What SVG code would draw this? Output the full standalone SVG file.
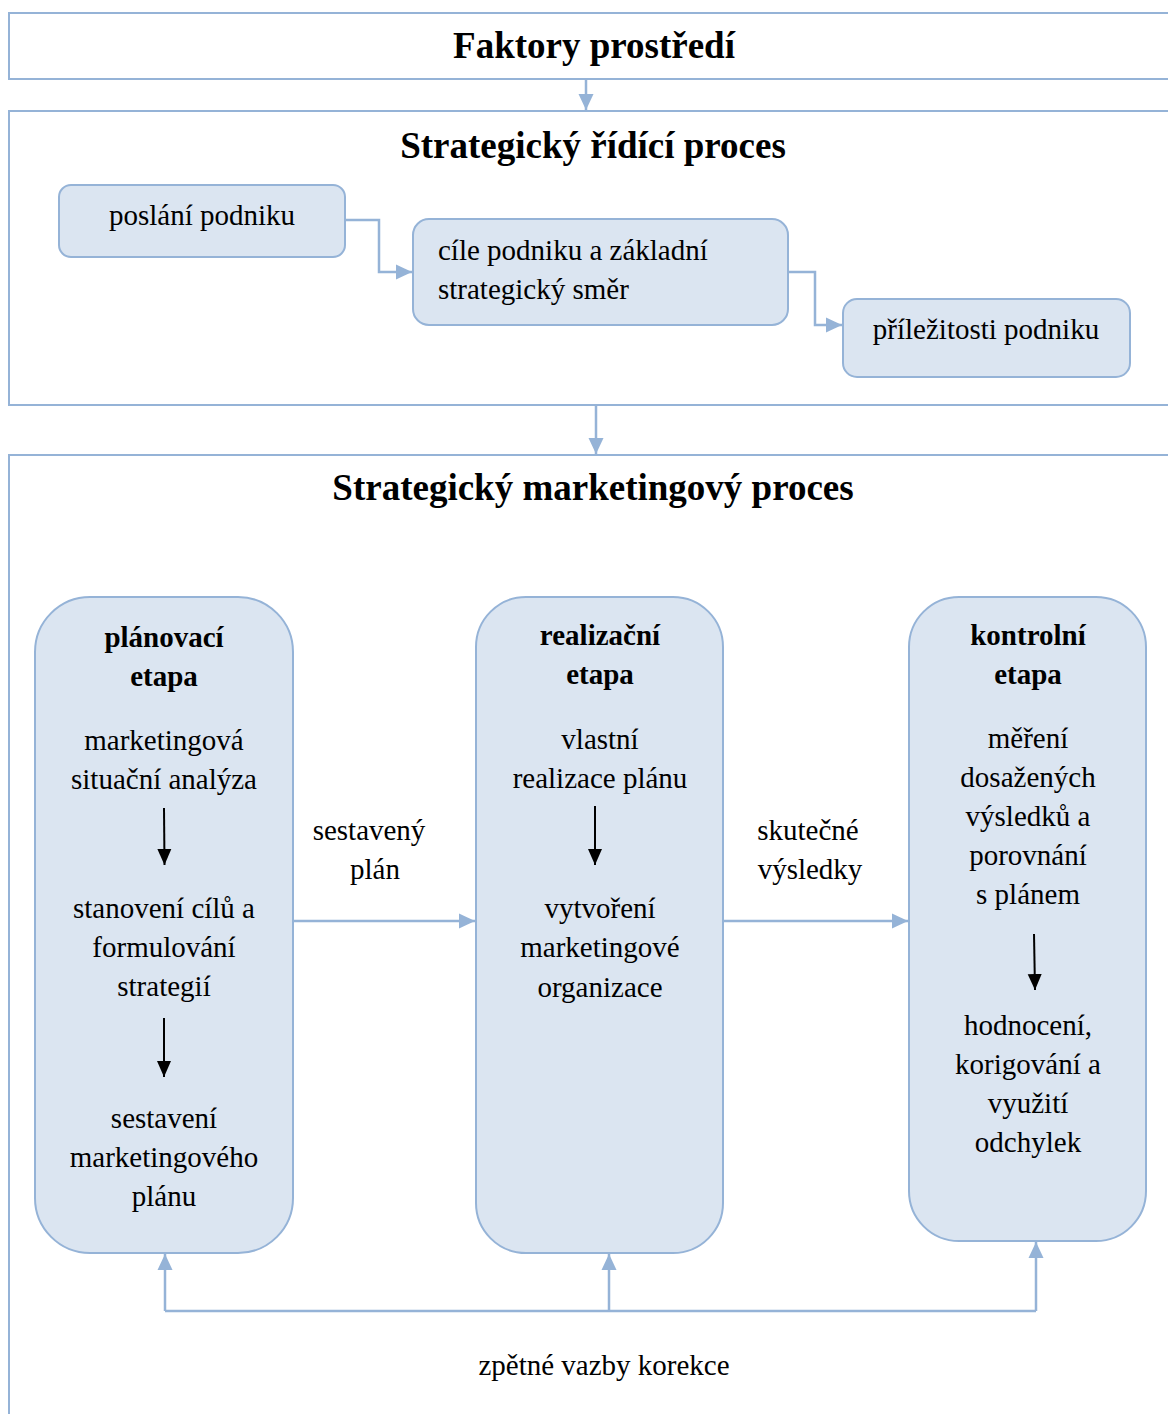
<svg xmlns="http://www.w3.org/2000/svg" width="1168" height="1414" viewBox="0 0 1168 1414">
<style>
.frame{fill:#fff;stroke:#95B3D7;stroke-width:2}
.node{fill:#DBE5F1;stroke:#95B3D7;stroke-width:2}
.conn{fill:none;stroke:#95B3D7;stroke-width:2.5}
.inner{fill:none;stroke:#000;stroke-width:2}
text{font-family:"Liberation Serif","Times New Roman",serif;fill:#000}
.t{font-size:37px;font-weight:bold;text-anchor:middle}
.b{font-size:29px;text-anchor:middle}
.h{font-size:29px;font-weight:bold;text-anchor:middle}
.l{font-size:29px}
</style>
<defs>
<marker id="ab" markerUnits="userSpaceOnUse" markerWidth="18" markerHeight="18" viewBox="0 0 18 18" refX="16" refY="9" orient="auto">
<path d="M0,1.5 L16,9 L0,16.5 Z" fill="#95B3D7"/>
</marker>
<marker id="ak" markerUnits="userSpaceOnUse" markerWidth="18" markerHeight="18" viewBox="0 0 18 18" refX="16" refY="9" orient="auto">
<path d="M0,2 L16,9 L0,16 Z" fill="#000"/>
</marker>
</defs>
<rect width="1168" height="1414" fill="#fff"/>

<g id="faktory">
<rect class="frame" x="9" y="13" width="1175" height="66"/>
<text class="t" x="594" y="58">Faktory prostředí</text>
</g>

<g id="ridici">
<rect class="frame" x="9" y="111" width="1175" height="294"/>
<text class="t" x="593" y="158">Strategický řídící proces</text>
</g>

<g id="marketingovy">
<rect class="frame" x="9" y="455" width="1175" height="980"/>
<text class="t" x="593" y="500">Strategický marketingový proces</text>
</g>

<g id="poslani">
<rect class="node" x="59" y="185" width="286" height="72" rx="12"/>
<text class="b" x="202" y="225">poslání podniku</text>
</g>

<g id="cile">
<rect class="node" x="413" y="219" width="375" height="106" rx="16"/>
<text class="l" x="438" y="260">cíle podniku a základní</text>
<text class="l" x="438" y="299">strategický směr</text>
</g>

<g id="prilezitosti">
<rect class="node" x="843" y="299" width="287" height="78" rx="14"/>
<text class="b" x="986" y="339">příležitosti podniku</text>
</g>

<g id="planovaci">
<rect class="node" x="35" y="597" width="258" height="656" rx="55"/>
<text class="h" x="164" y="647">plánovací</text>
<text class="h" x="164" y="686">etapa</text>
<text class="b" x="164" y="750">marketingová</text>
<text class="b" x="164" y="789">situační analýza</text>
<line class="inner" x1="164" y1="808" x2="164.5" y2="865" marker-end="url(#ak)"/>
<text class="b" x="164" y="918">stanovení cílů a</text>
<text class="b" x="164" y="957">formulování</text>
<text class="b" x="164" y="996">strategií</text>
<line class="inner" x1="164" y1="1018" x2="164" y2="1077" marker-end="url(#ak)"/>
<text class="b" x="164" y="1128">sestavení</text>
<text class="b" x="164" y="1167">marketingového</text>
<text class="b" x="164" y="1206">plánu</text>
</g>

<g id="realizacni">
<rect class="node" x="476" y="597" width="247" height="656" rx="50"/>
<text class="h" x="600" y="645">realizační</text>
<text class="h" x="600" y="684">etapa</text>
<text class="b" x="600" y="749">vlastní</text>
<text class="b" x="600" y="788">realizace plánu</text>
<line class="inner" x1="595" y1="806" x2="595" y2="865" marker-end="url(#ak)"/>
<text class="b" x="600" y="918">vytvoření</text>
<text class="b" x="600" y="957">marketingové</text>
<text class="b" x="600" y="997">organizace</text>
</g>

<g id="kontrolni">
<rect class="node" x="909" y="597" width="237" height="644" rx="50"/>
<text class="h" x="1028" y="645">kontrolní</text>
<text class="h" x="1028" y="684">etapa</text>
<text class="b" x="1028" y="748">měření</text>
<text class="b" x="1028" y="787">dosažených</text>
<text class="b" x="1028" y="826">výsledků a</text>
<text class="b" x="1028" y="865">porovnání</text>
<text class="b" x="1028" y="904">s plánem</text>
<line class="inner" x1="1034" y1="934" x2="1035" y2="990" marker-end="url(#ak)"/>
<text class="b" x="1028" y="1035">hodnocení,</text>
<text class="b" x="1028" y="1074">korigování a</text>
<text class="b" x="1028" y="1113">využití</text>
<text class="b" x="1028" y="1152">odchylek</text>
</g>

<g id="connectors">
<line class="conn" x1="586" y1="79" x2="586" y2="110" marker-end="url(#ab)"/>
<path class="conn" d="M345,220 H379 V272 H412" marker-end="url(#ab)"/>
<path class="conn" d="M788,272 H815 V325 H842" marker-end="url(#ab)"/>
<line class="conn" x1="596" y1="405" x2="596" y2="454" marker-end="url(#ab)"/>
<line class="conn" x1="293" y1="921" x2="475" y2="921" marker-end="url(#ab)"/>
<line class="conn" x1="723" y1="921" x2="908" y2="921" marker-end="url(#ab)"/>
<path class="conn" d="M165,1311 H1036"/>
<line class="conn" x1="165" y1="1311" x2="165" y2="1254" marker-end="url(#ab)"/>
<line class="conn" x1="609" y1="1311" x2="609" y2="1254" marker-end="url(#ab)"/>
<line class="conn" x1="1036" y1="1311" x2="1036" y2="1242" marker-end="url(#ab)"/>
<text class="b" x="369" y="840">sestavený</text>
<text class="b" x="375" y="879">plán</text>
<text class="b" x="808" y="840">skutečné</text>
<text class="b" x="810" y="879">výsledky</text>
<text class="b" x="604" y="1375">zpětné vazby korekce</text>
</g>
</svg>
